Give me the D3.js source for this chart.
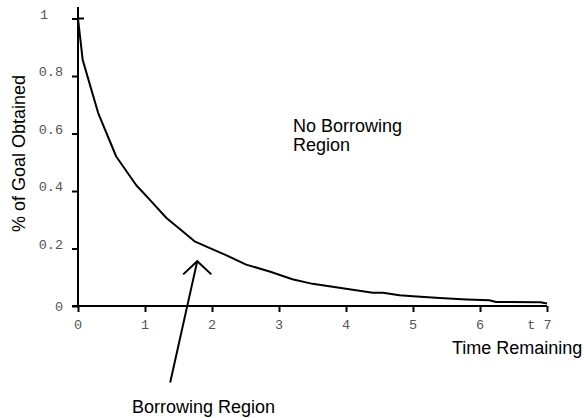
<!DOCTYPE html>
<html>
<head>
<meta charset="utf-8">
<script src="https://cdn.jsdelivr.net/npm/d3@7"></script>
<style>
  html, body { margin: 0; padding: 0; background: #fff; }
  svg { display: block; }
  .tick-label { font-family: "Liberation Mono", "Courier New", monospace; font-size: 13.5px; fill: #555; }
  .sans { font-family: "Liberation Sans", Arial, Helvetica, sans-serif; font-size: 18px; fill: #000; }
</style>
</head>
<body>
<script>
// ---- data ----
const timeRemaining = [0, 0.07, 0.3, 0.57, 0.87, 1.07, 1.32, 1.56, 1.74, 1.96, 2.2, 2.51, 2.86, 3.2, 3.5, 4.0, 4.4, 4.55, 4.8, 5.0, 5.4, 5.8, 6.14, 6.24, 6.9, 7.0];
const goalObtained  = [1, 0.856, 0.672, 0.52, 0.42, 0.37, 0.306, 0.26, 0.225, 0.202, 0.178, 0.144, 0.12, 0.093, 0.077, 0.06, 0.046, 0.046, 0.037, 0.034, 0.028, 0.023, 0.02, 0.014, 0.013, 0.009];
const xTickValues = [0, 1, 2, 3, 4, 5, 6, 7];
const xTickLabels = ["0", "1", "2", "3", "4", "5", "6", "t 7"];
const yTickValues = [0, 0.2, 0.4, 0.6, 0.8, 1];
const yTickLabels = ["0", "0.2", "0.4", "0.6", "0.8", "1"];
const arrowTail = [1.376, -0.266];
const arrowTip = [1.78, 0.156];
const arrowHeadLeft = [1.57, 0.11];
const arrowHeadRight = [1.99, 0.11];

const W = 584, H = 418;
const svg = d3.select("body").append("svg").attr("width", W).attr("height", H);

const x = d3.scaleLinear().domain([0, 7]).range([78, 547]);
const y = d3.scaleLinear().domain([0, 1.04]).range([306, 7]);

// y axis
const yAxis = svg.append("g").attr("transform", `translate(${x(0)},0)`)
  .call(d3.axisLeft(y).tickValues(yTickValues).tickSize(6).tickSizeOuter(0).tickFormat(""));
yAxis.selectAll("line").attr("stroke", "#000").attr("stroke-width", 2);
yAxis.select(".domain").attr("stroke", "#000").attr("stroke-width", 2).attr("d", `M0,${y(1.04)}V${y(0)}`);
// inner tick at 1
yAxis.append("line").attr("x1", 0).attr("x2", 6).attr("y1", y(1)).attr("y2", y(1))
  .attr("stroke", "#000").attr("stroke-width", 2);

// x axis
const xAxis = svg.append("g").attr("transform", `translate(0,${y(0)})`)
  .call(d3.axisBottom(x).tickValues(xTickValues).tickSize(6).tickSizeOuter(0).tickFormat(""));
xAxis.selectAll("line").attr("stroke", "#000").attr("stroke-width", 2);
xAxis.select(".domain").attr("stroke", "#000").attr("stroke-width", 2).attr("d", `M${x(0) - 6},0H${x(7)}`);

// tick labels
svg.selectAll(".ylab").data(yTickValues).enter().append("text")
  .attr("class", "tick-label")
  .attr("x", (d, i) => d === 1 ? 40 : 63)
  .attr("text-anchor", d => d === 1 ? "start" : "end")
  .attr("y", d => y(d) - (d === 0 ? 0 : 4.5) + 4.5)
  .text((d, i) => yTickLabels[i]);

svg.selectAll(".xlab").data(xTickValues).enter().append("text")
  .attr("class", "tick-label")
  .attr("x", (d, i) => i === xTickValues.length - 1 ? x(d) + 4.5 : x(d))
  .attr("text-anchor", (d, i) => i === xTickValues.length - 1 ? "end" : "middle")
  .attr("y", 328.5)
  .text((d, i) => xTickLabels[i]);

// curve
const pts = timeRemaining.map((t, i) => [t, goalObtained[i]]);
svg.append("path").datum(pts)
  .attr("fill", "none").attr("stroke", "#000").attr("stroke-width", 2).attr("stroke-linejoin", "round")
  .attr("d", d3.line().x(d => x(d[0])).y(d => y(d[1])));

// arrow
const ln = d3.line().x(d => x(d[0])).y(d => y(d[1]));
svg.append("path").datum([arrowTail, arrowTip])
  .attr("fill", "none").attr("stroke", "#000").attr("stroke-width", 2).attr("d", ln);
svg.append("path").datum([arrowHeadLeft, arrowTip, arrowHeadRight])
  .attr("fill", "none").attr("stroke", "#000").attr("stroke-width", 2).attr("d", ln);

// labels
svg.append("text").attr("class", "sans").attr("x", 452).attr("y", 354).text("Time Remaining");
svg.append("text").attr("class", "sans").attr("x", 293).attr("y", 131.5).text("No Borrowing");
svg.append("text").attr("class", "sans").attr("x", 293).attr("y", 150.5).text("Region");
svg.append("text").attr("class", "sans").attr("x", 132).attr("y", 413).text("Borrowing Region");
svg.append("text").attr("class", "sans")
  .attr("transform", "translate(25,153.5) rotate(-90)")
  .attr("text-anchor", "middle")
  .text("% of Goal Obtained");
</script>
</body>
</html>
